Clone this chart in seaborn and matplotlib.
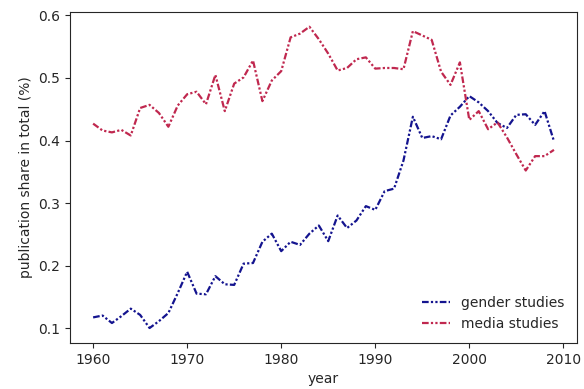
import numpy as np
import pandas as pd
import seaborn as sns
import matplotlib
matplotlib.use("Agg")
import matplotlib.pyplot as plt

years = list(range(1960, 2010))

gender_studies = [
    0.117, 0.120, 0.108, 0.119, 0.131, 0.121, 0.100, 0.111, 0.124, 0.156,
    0.190, 0.155, 0.154, 0.183, 0.170, 0.169, 0.203, 0.204, 0.238, 0.251,
    0.223, 0.238, 0.233, 0.251, 0.264, 0.239, 0.280, 0.260, 0.272, 0.295,
    0.289, 0.319, 0.323, 0.368, 0.438, 0.404, 0.407, 0.402, 0.440, 0.454,
    0.471, 0.461, 0.447, 0.428, 0.420, 0.441, 0.442, 0.425, 0.447, 0.399,
]

media_studies = [
    0.427, 0.416, 0.413, 0.417, 0.408, 0.452, 0.457, 0.444, 0.422, 0.456,
    0.474, 0.478, 0.458, 0.505, 0.447, 0.491, 0.501, 0.528, 0.463, 0.496,
    0.511, 0.565, 0.571, 0.582, 0.562, 0.539, 0.512, 0.516, 0.530, 0.533,
    0.515, 0.516, 0.516, 0.514, 0.575, 0.568, 0.561, 0.510, 0.489, 0.525,
    0.433, 0.447, 0.418, 0.429, 0.405, 0.378, 0.352, 0.375, 0.375, 0.385,
]

series_names = ["gender studies", "media studies"]
colors = ["#14148f", "#c0284f"]

df = pd.DataFrame({"year": years, "gender studies": gender_studies,
                   "media studies": media_studies})

sns.set_style("ticks")
plt.rcParams["font.family"] = ["DejaVu Sans"]

fig = plt.figure(figsize=(5.84, 3.89), dpi=100)
ax = fig.add_axes([0.12, 0.118, 0.868, 0.852])

for name, col in zip(series_names, colors):
    sns.lineplot(data=df, x="year", y=name, ax=ax, color=col, label=name,
                 linewidth=1.6)
    ax.lines[-1].set_dashes((3, 1, 1, 1, 1, 1))

ax.set_xlabel("year", fontsize=10)
ax.set_ylabel("publication share in total (%)", fontsize=10)
ax.set_xticks([1960, 1970, 1980, 1990, 2000, 2010])
ax.set_yticks([0.1, 0.2, 0.3, 0.4, 0.5, 0.6])
ax.tick_params(labelsize=10)
ax.legend(loc="lower right", frameon=False, fontsize=10)

fig.savefig("out.png", dpi=100)
